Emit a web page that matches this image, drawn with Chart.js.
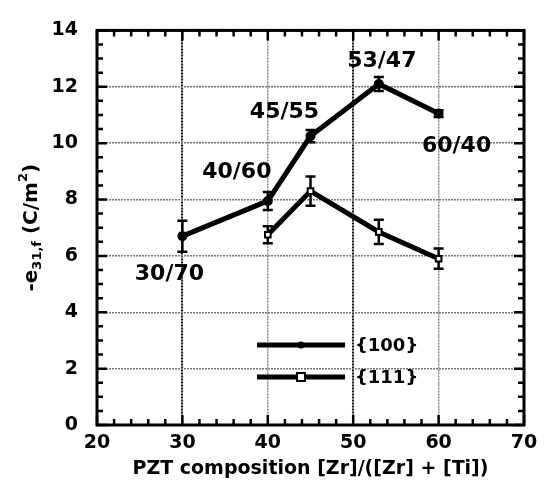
<!DOCTYPE html>
<html lang="en">
<head>
<meta charset="UTF-8">
<title>-e31,f vs PZT composition</title>
<script src="https://cdn.jsdelivr.net/npm/chart.js"></script>
<style>
  html, body { margin: 0; padding: 0; background: #fff; }
  #wrap { width: 553px; height: 489px; }
</style>
</head>
<body>
<div id="wrap"><canvas id="e31Chart" width="553" height="489"></canvas></div>
<script>
// values
const comp100 = [30, 40, 45, 53, 60];
const e31_100 = [6.7, 7.95, 10.25, 12.1, 11.05];
const err100  = [0.55, 0.32, 0.22, 0.25, 0.12];

const comp111 = [40, 45, 53, 60];
const e31_111 = [6.75, 8.3, 6.85, 5.9];
const err111  = [0.3, 0.52, 0.43, 0.36];

const xTicks = [20, 30, 40, 50, 60, 70];
const yTicks = [0, 2, 4, 6, 8, 10, 12, 14];

// Zr/Ti ratio written next to each {100} point
const ratioLabels = ['30/70', '40/60', '45/55', '53/47', '60/40'];
const ratioOffsets = [[-13, 38], [-31, -29], [-26, -24], [3, -23], [18, 33]];

const FONT = "'DejaVu Sans', sans-serif";

// error bars, drawn under the markers
const errorBars = {
    id: 'errorBars',
    beforeDatasetsDraw(chart) {
        const {ctx, scales: {x, y}} = chart;
        const sets = [[comp100, e31_100, err100], [comp111, e31_111, err111]];
        ctx.save();
        ctx.strokeStyle = '#000';
        ctx.lineWidth = 2.5;
        sets.forEach(([xs, ys, es]) => {
            xs.forEach((v, i) => {
                const px = x.getPixelForValue(v);
                const top = y.getPixelForValue(ys[i] + es[i]);
                const bot = y.getPixelForValue(ys[i] - es[i]);
                ctx.beginPath();
                ctx.moveTo(px, top); ctx.lineTo(px, bot);
                ctx.moveTo(px - 5, top); ctx.lineTo(px + 5, top);
                ctx.moveTo(px - 5, bot); ctx.lineTo(px + 5, bot);
                ctx.stroke();
            });
        });
        ctx.restore();
    }
};

// frame, inward ticks, ratio labels, legend and y title
const decorations = {
    id: 'decorations',
    afterDraw(chart) {
        const {ctx, chartArea: a, scales: {x, y}} = chart;
        ctx.save();
        ctx.strokeStyle = '#000';

        // minor / major ticks on all four sides
        ctx.lineWidth = 2.5;
        ctx.beginPath();
        for (let v = 20; v <= 70; v += 2) {
            const px = x.getPixelForValue(v);
            const len = v % 10 === 0 ? 10 : 6;
            ctx.moveTo(px, a.bottom); ctx.lineTo(px, a.bottom - len);
            ctx.moveTo(px, a.top); ctx.lineTo(px, a.top + len);
        }
        for (let v = 0; v <= 14; v += 0.5) {
            const py = y.getPixelForValue(v);
            const len = v % 2 === 0 ? 10 : 6;
            ctx.moveTo(a.left, py); ctx.lineTo(a.left + len, py);
            ctx.moveTo(a.right, py); ctx.lineTo(a.right - len, py);
        }
        ctx.stroke();

        ctx.lineWidth = 3;
        ctx.strokeRect(a.left, a.top, a.right - a.left, a.bottom - a.top);

        // composition labels
        ctx.fillStyle = '#000';
        ctx.font = 'bold 22px ' + FONT;
        ctx.textAlign = 'center';
        ctx.textBaseline = 'middle';
        ratioLabels.forEach((t, i) => {
            const px = x.getPixelForValue(comp100[i]) + ratioOffsets[i][0];
            const py = y.getPixelForValue(e31_100[i]) + ratioOffsets[i][1];
            ctx.fillText(t, px, py);
        });

        // legend
        const legendRows = [
            {label: chart.data.datasets[0].label, y: 345, square: false},
            {label: chart.data.datasets[1].label, y: 377, square: true}
        ];
        ctx.textAlign = 'left';
        ctx.font = 'bold 18px ' + FONT;
        legendRows.forEach(r => {
            ctx.lineWidth = 5;
            ctx.beginPath();
            ctx.moveTo(257, r.y); ctx.lineTo(345, r.y);
            ctx.stroke();
            if (r.square) {
                ctx.fillStyle = '#fff';
                ctx.lineWidth = 2;
                ctx.fillRect(297, r.y - 4, 8, 8);
                ctx.strokeRect(297, r.y - 4, 8, 8);
            } else {
                ctx.fillStyle = '#000';
                ctx.beginPath();
                ctx.arc(301, r.y, 3.5, 0, Math.PI * 2);
                ctx.fill();
            }
            ctx.fillStyle = '#000';
            ctx.fillText(r.label, 355, r.y + 1);
        });

        // y title with subscript / superscript
        const parts = [
            ['-e', 'bold 20px ' + FONT, 0],
            ['31,f', 'bold 13px ' + FONT, 6],
            [' (C/m', 'bold 20px ' + FONT, 0],
            ['2', 'bold 13px ' + FONT, -8],
            [')', 'bold 20px ' + FONT, 0]
        ];
        let total = 0;
        parts.forEach(p => { ctx.font = p[1]; total += ctx.measureText(p[0]).width; });
        ctx.translate(32, (a.top + a.bottom) / 2);
        ctx.rotate(-Math.PI / 2);
        ctx.textBaseline = 'middle';
        let cx = -total / 2;
        parts.forEach(p => {
            ctx.font = p[1];
            ctx.fillText(p[0], cx, p[2]);
            cx += ctx.measureText(p[0]).width;
        });
        ctx.restore();
    }
};

const ctx = document.getElementById('e31Chart').getContext('2d');
new Chart(ctx, {
    type: 'line',
    data: {
        datasets: [{
            label: '{100}',
            data: comp100.map((v, i) => ({x: v, y: e31_100[i]})),
            borderColor: '#000',
            borderWidth: 5,
            pointStyle: 'circle',
            pointRadius: 2.5,
            pointBackgroundColor: '#000',
            pointBorderColor: '#000',
            tension: 0
        }, {
            label: '{111}',
            data: comp111.map((v, i) => ({x: v, y: e31_111[i]})),
            borderColor: '#000',
            borderWidth: 5,
            pointStyle: 'rect',
            pointRadius: 4,
            pointBackgroundColor: '#fff',
            pointBorderColor: '#000',
            pointBorderWidth: 2,
            tension: 0
        }]
    },
    options: {
        responsive: false,
        animation: false,
        devicePixelRatio: 1,
        layout: { padding: { top: 17, right: 29, left: 0, bottom: 0 } },
        plugins: {
            legend: { display: false },
            tooltip: { enabled: false }
        },
        scales: {
            x: {
                type: 'linear',
                min: 20, max: 70,
                afterBuildTicks: s => { s.ticks = xTicks.map(v => ({value: v})); },
                afterFit: s => { s.height = 64; },
                ticks: {
                    color: '#000',
                    padding: 7,
                    maxRotation: 0,
                    font: { family: FONT, size: 19, weight: 'bold' }
                },
                grid: {
                    drawTicks: false,
                    color: c => (c.tick && (c.tick.value === 30 || c.tick.value === 50)) ? '#111' : '#888',
                    lineWidth: c => (c.tick && (c.tick.value === 30 || c.tick.value === 50)) ? 2 : 1.5
                },
                border: { display: false, dash: [2, 1] },
                title: {
                    display: true,
                    text: 'PZT composition [Zr]/([Zr] + [Ti])',
                    color: '#000',
                    padding: { top: 0, bottom: 9 },
                    font: { family: FONT, size: 19, weight: 'bold' }
                }
            },
            y: {
                min: 0, max: 14,
                afterBuildTicks: s => { s.ticks = yTicks.map(v => ({value: v})); },
                afterFit: s => { s.width = 97; },
                ticks: {
                    color: '#000',
                    padding: 19,
                    font: { family: FONT, size: 19, weight: 'bold' }
                },
                grid: {
                    drawTicks: false,
                    color: '#777',
                    lineWidth: 1.5
                },
                border: { display: false, dash: [2, 1] }
            }
        }
    },
    plugins: [errorBars, decorations]
});
</script>
</body>
</html>
